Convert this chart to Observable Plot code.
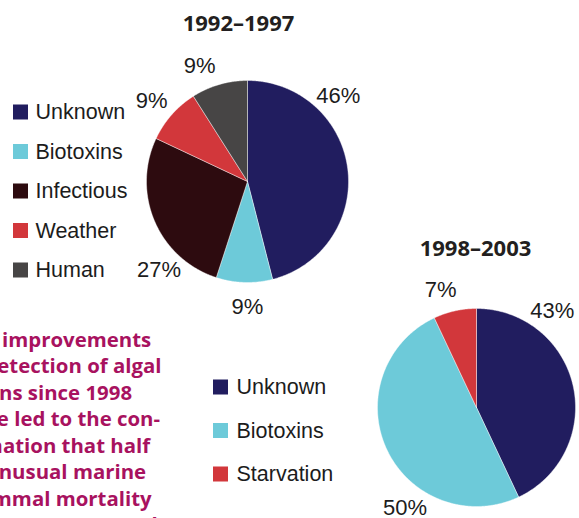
<!DOCTYPE html>
<html>
<head>
<meta charset="utf-8">
<script src="https://cdn.jsdelivr.net/npm/d3@7"></script>
<script src="https://cdn.jsdelivr.net/npm/@observablehq/plot@0.6"></script>
<style>
  html, body { margin: 0; padding: 0; background: #fff; overflow: hidden; }
  #chart { width: 579px; height: 518px; overflow: hidden; }
</style>
</head>
<body>
<div id="chart"></div>
<script>
// ---- data ----
const titles = ["1992–1997", "1998–2003"];
const categories1 = ["Unknown", "Biotoxins", "Infectious", "Weather", "Human"];
const values1 = [46, 9, 27, 9, 9];
const categories2 = ["Unknown", "Biotoxins", "Starvation"];
const values2 = [43, 50, 7];
const colorDomain = ["Unknown", "Biotoxins", "Infectious", "Weather", "Human", "Starvation"];
const colorRange = ["#211d5f", "#6dcad9", "#2d0b0f", "#d2373b", "#474545", "#d2373b"];
const noteLines = [
  "The improvements",
  "in detection of algal",
  "toxins since 1998",
  "have led to the con-",
  "firmation that half",
  "of unusual marine",
  "mammal mortality",
  "events were a result"
];

// ---- layout (positions / sizes) ----
const W = 579, H = 518;
const pies = [
  {cats: categories1, vals: values1, cx: 247, cy: 181, r: 101, title: titles[0], tx: 238, ty: 30,
   labelR: 125, labelAngles: [46.6, 180, 225, 310, 337.5],
   legend: {x: 13, y0: 112, step: 39.5, tx: 35}},
  {cats: categories2, vals: values2, cx: 476, cy: 407, r: 99, title: titles[1], tx: 475, ty: 255,
   labelR: 123, labelAngles: [38, 215.5, 343],
   legend: {x: 213, y0: 387, step: 43.5, tx: 236}}
];
const SQ = 15;

// ---- derived tables ----
const slicePts = [];
const labels = [];
const legendRows = [];
pies.forEach((p, pi) => {
  const arcs = d3.pie().sort(null).value(d => d)(p.vals);
  arcs.forEach((a, i) => {
    const key = pi + "-" + i;
    const cat = p.cats[i];
    slicePts.push({key, cat, x: p.cx, y: p.cy});
    const n = Math.max(2, Math.ceil((a.endAngle - a.startAngle) / (Math.PI / 360)));
    for (let k = 0; k <= n; k++) {
      const t = a.startAngle + (a.endAngle - a.startAngle) * k / n;
      slicePts.push({key, cat, x: p.cx + p.r * Math.sin(t), y: p.cy - p.r * Math.cos(t)});
    }
    slicePts.push({key, cat, x: p.cx, y: p.cy});
    const la = p.labelAngles[i] * Math.PI / 180;
    labels.push({x: p.cx + p.labelR * Math.sin(la), y: p.cy - p.labelR * Math.cos(la), text: p.vals[i] + "%"});
    legendRows.push({cat, x: p.legend.x, y: p.legend.y0 + i * p.legend.step, tx: p.legend.tx});
  });
});
const titleRows = pies.map(p => ({x: p.tx, y: p.ty, text: p.title}));
const noteRows = noteLines.map((t, i) => ({x: -41, y: 346 + i * 26.5, text: t}));

const chart = Plot.plot({
  width: W,
  height: H,
  margin: 0,
  x: {type: "linear", domain: [0, W], range: [0, W], axis: null},
  y: {type: "linear", domain: [0, H], range: [0, H], axis: null},
  color: {domain: colorDomain, range: colorRange},
  style: {background: "#fff", overflow: "visible"},
  marks: [
    Plot.line(slicePts, {x: "x", y: "y", z: "key", fill: "cat", stroke: "#ffffff", strokeWidth: 0.6, strokeOpacity: 0.7, curve: "linear"}),
    Plot.text(labels, {x: "x", y: "y", text: "text", fontFamily: "Liberation Sans, Arial, sans-serif", fontSize: 22, fill: "#1c1c1c"}),
    Plot.text(titleRows, {x: "x", y: "y", text: "text", lineAnchor: "bottom", fontFamily: "Open Sans, sans-serif", fontWeight: "bold", fontSize: 22, fill: "#231f20"}),
    Plot.rect(legendRows, {x1: d => d.x, x2: d => d.x + SQ, y1: d => d.y - SQ / 2, y2: d => d.y + SQ / 2, fill: "cat"}),
    Plot.text(legendRows, {x: "tx", y: "y", text: "cat", textAnchor: "start", fontFamily: "Liberation Sans, Arial, sans-serif", fontSize: 21.5, fill: "#1c1c1c"}),
    Plot.text(noteRows, {x: "x", y: "y", text: "text", textAnchor: "start", lineAnchor: "bottom", fontFamily: "Open Sans, sans-serif", fontWeight: "bold", fontSize: 20.4, fill: "#a8125f"})
  ]
});
document.getElementById("chart").appendChild(chart);
</script>
</body>
</html>
